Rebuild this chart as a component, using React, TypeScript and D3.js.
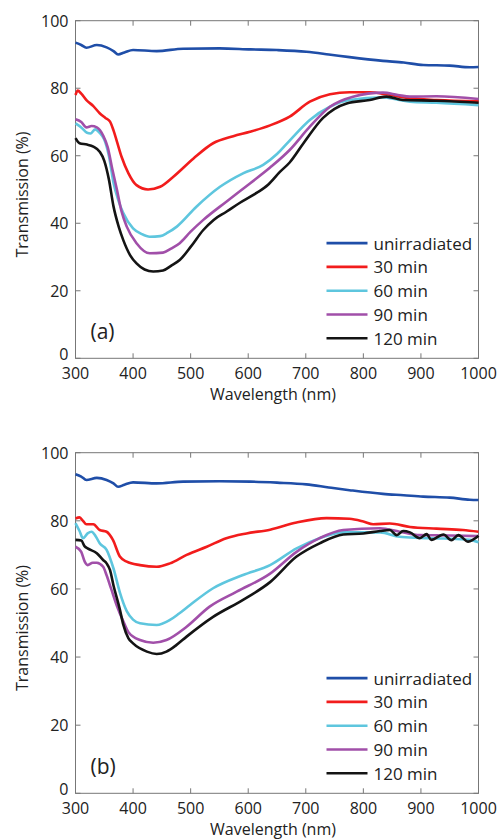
import * as d3 from "d3";
import React from "react";

const WIDTH = 499;
const HEIGHT = 840;

const xTicks = [300, 400, 500, 600, 700, 800, 900, 1000];
const yTicks = [0, 20, 40, 60, 80, 100];
const seriesNames = ["unirradiated", "30 min", "60 min", "90 min", "120 min"];
const seriesColors = ["#1f4ea8", "#f21c1c", "#5ec6de", "#a14fa9", "#141414"];

// panel (a)
const unirrA = [[300,93.5],[310,92.8],[319,92.0],[337,92.8],[354,92.1],[366,91.0],[374,90.0],[385,90.6],[400,91.3],[441,91.0],[487,91.7],[550,91.8],[604,91.5],[650,91.3],[701,90.8],[740,90.0],[776,89.2],[834,88.1],[870,87.6],[904,86.9],[950,86.7],[985,86.2],[1000,86.3]];
const min30A = [[300,78],[304,79.3],[310,78.4],[319,76.5],[331,74.7],[342,72.6],[352,71.2],[360,70.1],[366,67.5],[372,64.2],[380,59.7],[392,54.8],[406,51.3],[426,50.0],[447,50.8],[470,53.8],[505,59.2],[539,63.7],[574,65.8],[603,67.1],[638,69.0],[672,71.6],[707,76.0],[742,78.2],[776,78.8],[811,78.8],[840,78.2],[881,77.0],[927,76.5],[1000,76.1]];
const min60A = [[300,69.6],[310,68.4],[320,66.8],[326,66.6],[334,67.8],[342,66.8],[350,64.8],[358,60],[366,52],[375,46.5],[383,43.0],[400,38.5],[415,36.8],[429,36.0],[447,36.2],[460,37.2],[476,39.0],[510,44.9],[551,50.8],[591,54.8],[626,57.3],[650,60.5],[672,64.5],[707,70.6],[742,74.5],[776,76.5],[834,77.3],[860,76.6],[881,76.0],[927,75.7],[1000,75.0]];
const min90A = [[300,70.8],[310,70],[319,68.4],[328,68.8],[337,68.4],[348,66],[356,62.5],[364,56],[372,49.9],[380,43.5],[389,39.0],[406,34.1],[429,31.1],[452,31.3],[466,32.5],[481,34.1],[500,37.5],[522,41.0],[562,46.4],[603,51.8],[638,56.5],[672,61.7],[707,68.6],[742,74.5],[782,77.5],[834,78.7],[860,78],[881,77.5],[927,77.6],[1000,76.8]];
const min120A = [[300,65.2],[307,63.7],[320,63.3],[331,62.7],[342,61.2],[350,58.5],[358,53],[366,45],[375,39],[383,35],[395,30.5],[406,28.1],[420,26.3],[435,25.7],[452,26.0],[467,27.5],[481,29.1],[500,33],[522,38.0],[540,41],[562,43.4],[585,46],[609,48.4],[635,51.5],[655,55.2],[672,58.0],[696,63.7],[730,71.2],[771,75.5],[811,76.5],[840,77.5],[869,76.5],[927,76.3],[1000,75.7]];

// panel (b)
const unirrB = [[300,93.7],[310,93],[319,92.0],[337,92.6],[354,92.0],[366,91.0],[374,90.0],[385,90.6],[400,91.3],[441,91.0],[487,91.5],[550,91.6],[604,91.5],[650,91.2],[701,90.7],[740,89.8],[776,89.0],[834,87.9],[870,87.5],[904,87.1],[950,86.8],[985,86.2],[1000,86.1]];
const min30B = [[300,80.7],[307,81.0],[313,80],[319,79.0],[331,79.0],[342,77.3],[354,76.8],[365,74.4],[377,69.5],[389,68.0],[412,67.0],[441,66.5],[464,67.5],[493,70.0],[528,72.4],[562,74.9],[597,76.3],[638,77.4],[684,79.5],[736,80.8],[776,80.6],[800,79.8],[817,79.0],[846,79.2],[881,78.2],[927,77.7],[973,77.3],[1000,76.8]];
const min60B = [[300,79.3],[307,77],[313,74.9],[321,76.3],[328,76.8],[335,75.5],[342,73.4],[354,71.5],[366,66],[377,59],[389,53.5],[400,51],[412,49.9],[441,49.4],[464,50.9],[480,52.8],[499,55.3],[539,60.2],[591,64.1],[638,67],[684,71.9],[724,74.9],[765,76.6],[829,76.6],[863,75.3],[898,75.0],[940,74.8],[985,74.4],[1000,73.7]];
const min90B = [[300,72.4],[310,70.9],[316,68],[321,67.0],[330,67.7],[337,67.7],[348,66.5],[354,64],[362,60],[372,55],[383,50.5],[392,47.3],[412,45.0],[435,44.2],[458,45.0],[493,48.9],[533,54.8],[580,59.2],[638,64.5],[684,70.9],[724,74.9],[765,77.3],[829,77.8],[863,76.8],[898,75.8],[950,75.7],[1000,75.5]];
const min120B = [[300,74.4],[310,74.2],[316,72.5],[321,71.9],[337,70.5],[348,68.5],[354,67.5],[360,65.5],[366,61],[377,54],[383,49.5],[392,45.5],[400,44.0],[424,41.6],[441,40.9],[458,41.6],[475,43.5],[493,46.0],[539,51.8],[591,56.8],[638,62],[684,69.5],[724,73.4],[765,76.0],[800,76.3],[829,77.0],[846,77.3],[858,75.8],[869,77.0],[881,76.6],[898,74.9],[910,76.1],[918,74.4],[939,76.0],[953,74.3],[965,75.8],[982,73.9],[1000,75.6]];

const panels = [
  { label: "(a)", top: 20.7, bottom: 358.3, series: [unirrA, min30A, min60A, min90A, min120A] },
  { label: "(b)", top: 452.7, bottom: 793.3, series: [unirrB, min30B, min60B, min90B, min120B] },
];

const LEFT = 75.5;
const RIGHT = 478.5;
const FONT = "'Open Sans', 'Noto Sans', sans-serif";
const AXIS = "#777";
const TXT = "#222";
const FS = 16;

const Panel = ({ p }) => {
  const x = d3.scaleLinear().domain([300, 1000]).range([LEFT, RIGHT]);
  const y = d3.scaleLinear().domain([0, 100]).range([p.bottom, p.top]);
  const line = d3
    .line()
    .x((d) => x(d[0]))
    .y((d) => y(d[1]))
    .curve(d3.curveMonotoneX);
  const legendStep = 23.8;
  const legendLast = p.bottom - 20;

  return (
    <g>
      <rect x={LEFT} y={p.top} width={RIGHT - LEFT} height={p.bottom - p.top} fill="none" stroke={AXIS} strokeWidth={1} />
      {xTicks.map((t) => (
        <g key={"x" + t}>
          <line x1={x(t)} x2={x(t)} y1={p.bottom} y2={p.bottom - 5} stroke={AXIS} />
          <line x1={x(t)} x2={x(t)} y1={p.top} y2={p.top + 5} stroke={AXIS} />
          <text x={x(t)} y={p.bottom + 14.5} textAnchor="middle" dominantBaseline="central" fontSize={FS} fill={TXT}>
            {t}
          </text>
        </g>
      ))}
      {yTicks.map((t) => (
        <g key={"y" + t}>
          <line x1={LEFT} x2={LEFT + 5} y1={y(t)} y2={y(t)} stroke={AXIS} />
          <line x1={RIGHT} x2={RIGHT - 5} y1={y(t)} y2={y(t)} stroke={AXIS} />
          <text x={LEFT - 7} y={t === 0 ? y(t) - 4 : y(t)} textAnchor="end" dominantBaseline="central" fontSize={FS} fill={TXT}>
            {t}
          </text>
        </g>
      ))}
      <text x={(LEFT + RIGHT) / 2 - 4} y={p.bottom + 36} textAnchor="middle" dominantBaseline="central" fontSize={FS} fill={TXT}>
        Wavelength (nm)
      </text>
      <text
        transform={`translate(22,${(p.top + p.bottom) / 2 + 5}) rotate(-90)`}
        textAnchor="middle"
        dominantBaseline="central"
        fontSize={FS}
        fill={TXT}
      >
        Transmission (%)
      </text>
      {p.series.map((s, i) => (
        <path key={"s" + i} d={line(s)} fill="none" stroke={seriesColors[i]} strokeWidth={2.6} strokeLinejoin="round" />
      ))}
      <text x={LEFT + 15} y={p.bottom - 27} dominantBaseline="central" fontSize={21} fill={TXT}>
        {p.label}
      </text>
      {seriesNames.map((name, i) => {
        const ly = legendLast - (seriesNames.length - 1 - i) * legendStep;
        return (
          <g key={"l" + i}>
            <line x1={RIGHT - 152} x2={RIGHT - 111} y1={ly} y2={ly} stroke={seriesColors[i]} strokeWidth={2.6} />
            <text x={RIGHT - 105} y={ly} dominantBaseline="central" fontSize={17} fill={TXT}>
              {name}
            </text>
          </g>
        );
      })}
    </g>
  );
};

export default function App() {
  return (
    <div style={{ position: "absolute", left: 0, top: 0 }}>
      <svg width={WIDTH} height={HEIGHT} viewBox={`0 0 ${WIDTH} ${HEIGHT}`} style={{ display: "block", fontFamily: FONT, background: "#fff" }}>
        {panels.map((p) => (
          <Panel key={p.label} p={p} />
        ))}
      </svg>
    </div>
  );
}
